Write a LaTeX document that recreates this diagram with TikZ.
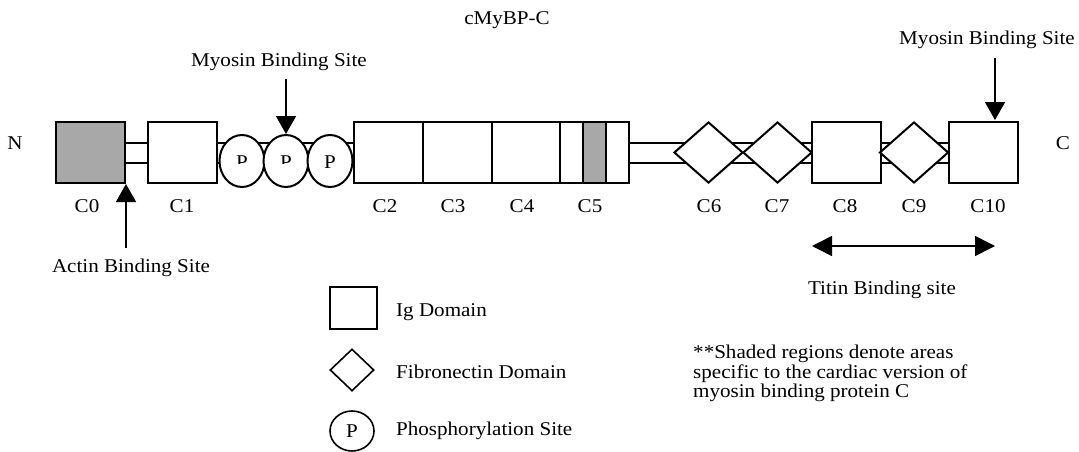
\documentclass[tikz,border=0pt]{standalone}
\usepackage{fontspec}
\setmainfont{Liberation Serif}
\usetikzlibrary{shapes.geometric,arrows.meta,backgrounds,calc}
\definecolor{shade}{RGB}{168,168,168}

\begin{document}
\begin{tikzpicture}[x=1pt,y=-1pt,
  every node/.style={inner sep=0pt},
  lbl/.style={font=\fontsize{19.5}{19.5}\selectfont, xscale=1.08},
  dom/.style={draw, line width=2pt, fill=white, minimum width=69pt, minimum height=61pt},
  igbox/.style={dom, rectangle},
  fnbox/.style={dom, diamond},
  psite/.style={draw, line width=2pt, fill=white, ellipse, minimum width=45pt, minimum height=52pt},
  rail/.style={line width=2pt},
  pointer/.style={line width=1.6pt, -{Triangle[width=20pt,length=18pt]}},
  twoway/.style={line width=1.6pt, {Triangle[width=20pt,length=20pt]}-{Triangle[width=20pt,length=20pt]}},
]
\useasboundingbox (0,0) rectangle (1079,452);

% ---- domain chain ----
\node[igbox, fill=shade] (C0) at (90.5,152.5) {};
\node[igbox] (C1) at (182.5,152.5) {};
\node[psite] (P1) at (242,161) {};
\node[psite] (P2) at (286,161) {};
\node[psite] (P3) at (330,161) {};
\node[igbox] (C2) at (388.5,152.5) {};
\node[igbox] (C3) at (457.5,152.5) {};
\node[igbox] (C4) at (526,152.5) {};
\node[igbox] (C5) at (594,152.5) {};
\node[draw, line width=2pt, fill=shade, minimum width=23pt, minimum height=61pt] (C5s) at (594.5,152.5) {};
\node[fnbox] (C6) at (708.5,152.5) {};
\node[fnbox] (C7) at (777.5,152.5) {};
\node[igbox] (C8) at (846,152.5) {};
\node[fnbox] (C9) at (914,152.5) {};
\node[igbox] (C10) at (983,152.5) {};

% linker rails behind the domains
\begin{scope}[on background layer]
  \draw[rail] ([yshift=10pt]C0.east) -- ([yshift=10pt]C10.west);
  \draw[rail] ([yshift=-10pt]C0.east) -- ([yshift=-10pt]C10.west);
\end{scope}

% phosphorylation letters (first two cut off)
\node[lbl] (P3t) at (330,162.5) {P};
\begin{scope}
  \clip (215,130) rectangle (310,163);
  \node[lbl] (P1t) at (242,162.5) {P};
  \node[lbl] (P2t) at (286,162.5) {P};
\end{scope}

% domain names
\node[lbl] (lC0) at (87,206) {C0};
\node[lbl] (lC1) at (182,206) {C1};
\node[lbl] (lC2) at (385,206) {C2};
\node[lbl] (lC3) at (453,206) {C3};
\node[lbl] (lC4) at (522,206) {C4};
\node[lbl] (lC5) at (590,206) {C5};
\node[lbl] (lC6) at (709,206) {C6};
\node[lbl] (lC7) at (777,206) {C7};
\node[lbl] (lC8) at (845,206) {C8};
\node[lbl] (lC9) at (914,206) {C9};
\node[lbl] (lC10) at (988,206) {C10};

\node[lbl] (Nend) at (15,143) {N};
\node[lbl] (Cend) at (1063,143) {C};
\node[lbl] (title) at (507,20) {cMyBP-C};

% binding sites
\node[lbl] (myoL) at (279,62) {Myosin Binding Site};
\coordinate (myoLTail) at ($(P2.north)+(0,-55)$);
\draw[pointer] (myoLTail) -- (P2.north);

\node[lbl] (myoR) at (987,40) {Myosin Binding Site};
\coordinate (myoRTip) at ($(C10.north)+(12,-1)$);
\coordinate (myoRTail) at ($(myoRTip)+(0,-62)$);
\draw[pointer] (myoRTail) -- (myoRTip);

\node[lbl] (actinL) at (131,268) {Actin Binding Site};
\coordinate (actinTail) at ($(C0.south east)+(0,64)$);
\draw[pointer] (actinTail) -- (C0.south east);

\coordinate (titinA) at (812,246);
\coordinate (titinB) at (995,246);
\draw[twoway] (titinA) -- (titinB);
\node[lbl] (titinL) at (882,290) {Titin Binding site};

% legend
\node[draw, line width=2pt, minimum width=47pt, minimum height=42pt] (lgIg) at (353.5,308) {};
\node[lbl, anchor=west] (lgIgT) at (396,312) {Ig Domain};
\node[draw, diamond, line width=1.6pt, minimum width=44pt, minimum height=42pt] (lgFn) at (352,370) {};
\node[lbl, anchor=west] (lgFnT) at (396,372) {Fibronectin Domain};
\node[draw, ellipse, line width=1.6pt, minimum width=44pt, minimum height=40pt] (lgP) at (352,431) {};
\node[lbl] (lgPl) at (352,431) {P};
\node[lbl, anchor=west] (lgPT) at (396,431) {Phosphorylation Site};

\node[lbl, anchor=north west, align=left] (note) at (693,345)
  {**Shaded regions denote areas\\specific to the cardiac version of\\myosin binding protein C};
\end{tikzpicture}
\end{document}
